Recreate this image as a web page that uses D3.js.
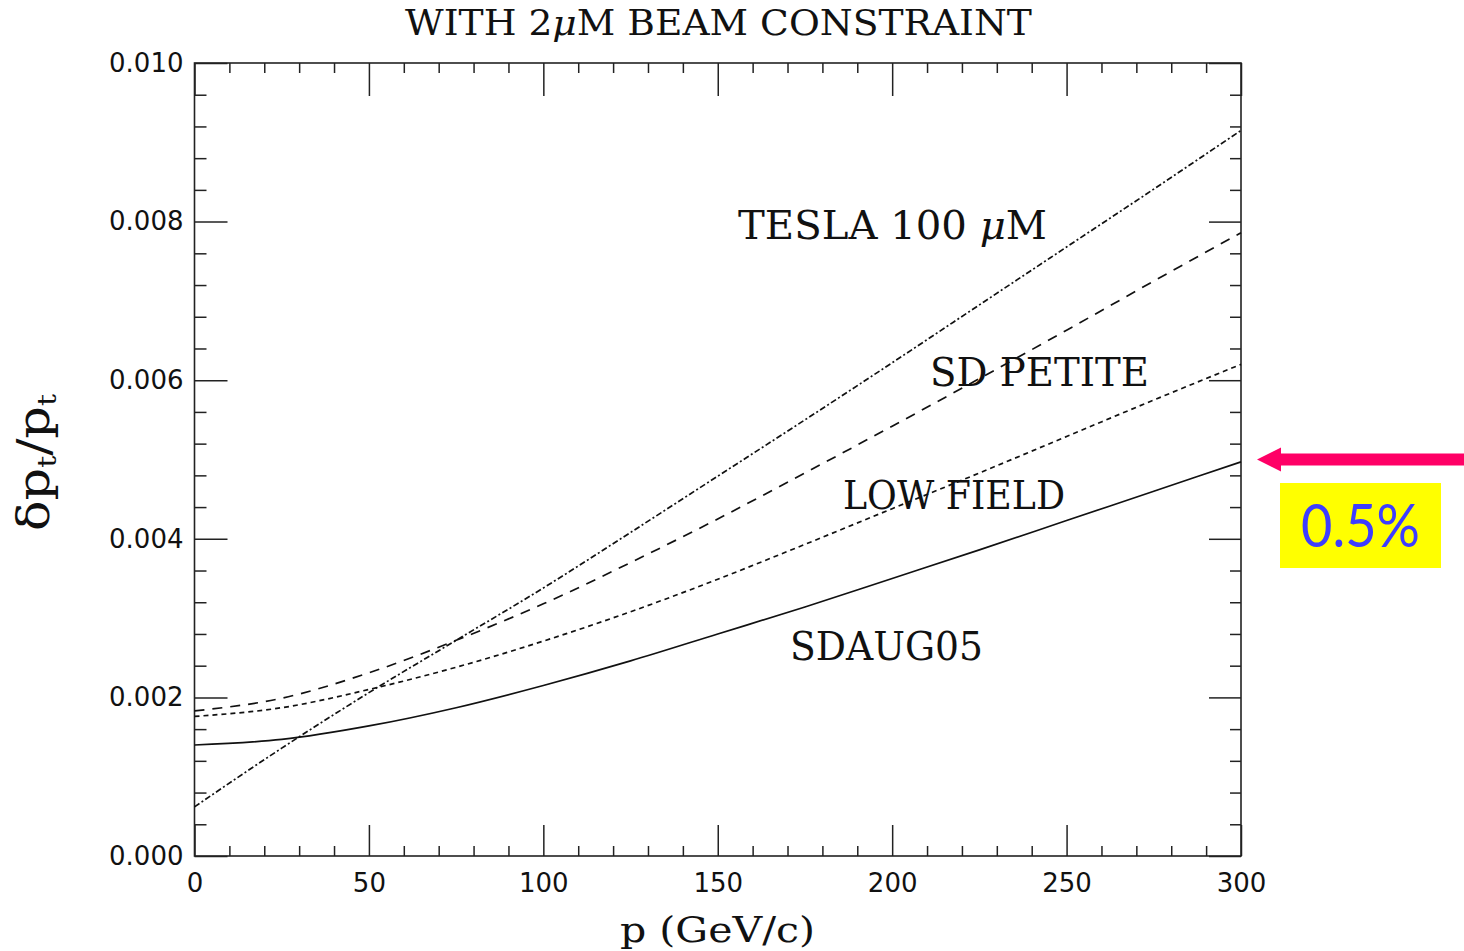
<!DOCTYPE html>
<html>
<head>
<meta charset="utf-8">
<script src="https://cdn.jsdelivr.net/npm/d3@7"></script>
<style>
  body { margin: 0; background: #fff; }
  svg { display: block; }
</style>
</head>
<body>
<div class="container"></div>
<script>
// momentum (GeV/c) and resolution
const momentum = [0, 25, 50, 75, 100, 125, 150, 175, 200, 225, 250, 275, 300];
const sdaug05   = [0.00140, 0.00147, 0.00164, 0.00187, 0.00215, 0.00246, 0.00280, 0.00314, 0.00350, 0.00386, 0.00423, 0.00460, 0.00497];
const lowField  = [0.00176, 0.00187, 0.00210, 0.00238, 0.00271, 0.00308, 0.00349, 0.00393, 0.00438, 0.00483, 0.00529, 0.00575, 0.00620];
const sdPetite  = [0.00183, 0.00199, 0.00231, 0.00272, 0.00318, 0.00370, 0.00425, 0.00483, 0.00542, 0.00602, 0.00663, 0.00725, 0.00786];
const tesla     = [0.00062, 0.00136, 0.00206, 0.00272, 0.00338, 0.00408, 0.00479, 0.00550, 0.00622, 0.00695, 0.00768, 0.00841, 0.00915];

const xMajor = [0, 50, 100, 150, 200, 250, 300];
const yMajor = [0, 0.002, 0.004, 0.006, 0.008, 0.010];
const markLevel = 0.005; // the 0.5% mark that the arrow points to

const W = 1464, H = 951;
const pLeft = 194.5, pRight = 1241, pTop = 63, pBottom = 856;

const svg = d3.select('.container')
  .append('svg')
  .attr('width', W)
  .attr('height', H);

const x = d3.scaleLinear().domain([0, 300]).range([pLeft, pRight]);
const y = d3.scaleLinear().domain([0, 0.010]).range([pBottom, pTop]);

const xMinor = d3.range(0, 301, 10).filter(d => d % 50 !== 0);
const yMinor = d3.range(0, 0.01001, 0.0004).filter(d => Math.abs(d / 0.002 - Math.round(d / 0.002)) > 1e-6);

// axes: ticks point inward on all four sides
function styleAxis(g) {
  g.select('.domain').remove();
  g.selectAll('line').attr('stroke', '#222').attr('stroke-width', 1.5);
  g.selectAll('text').attr('fill', '#111').attr('font-family', 'DejaVu Sans').attr('font-size', 26);
}

svg.append('g').attr('transform', `translate(0,${pBottom})`)
  .call(d3.axisBottom(x).tickValues(xMajor).tickSize(-31).tickPadding(18).tickFormat(d3.format('d')))
  .call(styleAxis);
svg.append('g').attr('transform', `translate(0,${pBottom})`)
  .call(d3.axisBottom(x).tickValues(xMinor).tickSize(-10).tickFormat(''))
  .call(styleAxis);
svg.append('g').attr('transform', `translate(0,${pTop})`)
  .call(d3.axisTop(x).tickValues(xMajor).tickSize(-33).tickFormat(''))
  .call(styleAxis);
svg.append('g').attr('transform', `translate(0,${pTop})`)
  .call(d3.axisTop(x).tickValues(xMinor).tickSize(-10).tickFormat(''))
  .call(styleAxis);

svg.append('g').attr('transform', `translate(${pLeft},0)`)
  .call(d3.axisLeft(y).tickValues(yMajor).tickSize(-33).tickPadding(11).tickFormat(d3.format('.3f')))
  .call(styleAxis);
svg.append('g').attr('transform', `translate(${pLeft},0)`)
  .call(d3.axisLeft(y).tickValues(yMinor).tickSize(-12).tickFormat(''))
  .call(styleAxis);
svg.append('g').attr('transform', `translate(${pRight},0)`)
  .call(d3.axisRight(y).tickValues(yMajor).tickSize(-32).tickFormat(''))
  .call(styleAxis);
svg.append('g').attr('transform', `translate(${pRight},0)`)
  .call(d3.axisRight(y).tickValues(yMinor).tickSize(-11).tickFormat(''))
  .call(styleAxis);

// frame
svg.append('rect')
  .attr('x', pLeft).attr('y', pTop)
  .attr('width', pRight - pLeft).attr('height', pBottom - pTop)
  .attr('fill', 'none').attr('stroke', '#222').attr('stroke-width', 1.6);

// curves
const line = d3.line()
  .x((d, i) => x(momentum[i]))
  .y(d => y(d))
  .curve(d3.curveMonotoneX);

const series = [
  {vals: sdaug05, dash: null},
  {vals: lowField, dash: '5,4'},
  {vals: sdPetite, dash: '10,8'},
  {vals: tesla, dash: '6,2.5,2,2.5'}
];
series.forEach(s => {
  svg.append('path')
    .attr('d', line(s.vals))
    .attr('fill', 'none')
    .attr('stroke', '#111')
    .attr('stroke-width', 1.7)
    .attr('stroke-dasharray', s.dash);
});

// title
const title = svg.append('text')
  .attr('x', 405).attr('y', 35)
  .attr('font-family', 'DejaVu Serif').attr('font-size', 36).attr('fill', '#111')
  .attr('textLength', 627).attr('lengthAdjust', 'spacingAndGlyphs');
title.append('tspan').text('WITH 2');
title.append('tspan').attr('font-style', 'italic').text('μ');
title.append('tspan').text('M BEAM CONSTRAINT');

// curve labels
const labels = [
  {t: ['TESLA  100  ', 'μ', 'M'], x: 738, y: 239, w: 309},
  {t: ['SD PETITE'], x: 930, y: 386, w: 219},
  {t: ['LOW FIELD'], x: 843, y: 509, w: 222},
  {t: ['SDAUG05'], x: 790, y: 660, w: 193}
];
labels.forEach(l => {
  const t = svg.append('text')
    .attr('x', l.x).attr('y', l.y)
    .attr('font-family', 'DejaVu Serif').attr('font-size', 40).attr('fill', '#111')
    .attr('textLength', l.w).attr('lengthAdjust', 'spacingAndGlyphs');
  l.t.forEach(s => t.append('tspan').attr('font-style', s === 'μ' ? 'italic' : null).text(s));
});

// axis titles
svg.append('text')
  .attr('x', 620).attr('y', 942)
  .attr('font-family', 'DejaVu Serif').attr('font-size', 36).attr('fill', '#111')
  .attr('textLength', 195).attr('lengthAdjust', 'spacingAndGlyphs')
  .text('p (GeV/c)');

const yl = svg.append('text')
  .attr('transform', 'translate(49,531) rotate(-90)')
  .attr('font-family', 'DejaVu Serif').attr('font-size', 44).attr('fill', '#111')
  .attr('textLength', 137).attr('lengthAdjust', 'spacingAndGlyphs');
yl.append('tspan').text('δp');
yl.append('tspan').attr('font-size', 26).attr('dy', 7).text('t');
yl.append('tspan').attr('dy', -7).text('/p');
yl.append('tspan').attr('font-size', 26).attr('dy', 7).text('t');

// pink arrow pointing at 0.5%
const arrowY = y(markLevel);
svg.append('path')
  .attr('d', `M1257,${arrowY} L1281,${arrowY - 12} L1281,${arrowY - 6} L1464,${arrowY - 6} L1464,${arrowY + 6} L1281,${arrowY + 6} L1281,${arrowY + 12} Z`)
  .attr('fill', '#ff0066');

svg.append('rect')
  .attr('x', 1280).attr('y', 483)
  .attr('width', 161).attr('height', 85)
  .attr('fill', '#ffff00');
svg.append('text')
  .attr('x', 1301).attr('y', 547)
  .attr('font-family', 'Lato').attr('font-size', 60).attr('fill', '#3d3dff')
  .attr('textLength', 119).attr('lengthAdjust', 'spacingAndGlyphs')
  .text('0.5%');
</script>
</body>
</html>
